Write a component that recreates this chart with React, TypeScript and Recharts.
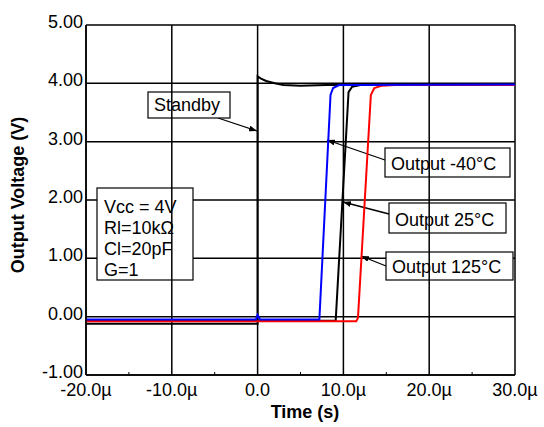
import React from "react";
import { LineChart, Line, XAxis, YAxis, CartesianGrid, ReferenceLine } from "recharts";

// time in µs, voltage in V
const xMajor = [-20, -10, 0, 10, 20, 30];
const xMinor = [-15, -5, 5, 15, 25];
const yTicks = [-1, 0, 1, 2, 3, 4, 5];

const standby = [
  { t: -20, v: -0.12 }, { t: 0, v: -0.12 }, { t: 0, v: 4.12 }, { t: 0.4, v: 4.08 },
  { t: 1, v: 4.04 }, { t: 2, v: 4.0 }, { t: 3, v: 3.97 }, { t: 5, v: 3.96 },
  { t: 8, v: 3.97 }, { t: 30, v: 3.98 },
];
const out25 = [
  { t: -20, v: -0.07 }, { t: 9.1, v: -0.07 }, { t: 10.6, v: 3.85 }, { t: 11, v: 3.94 },
  { t: 12, v: 3.97 }, { t: 30, v: 3.98 },
];
const out125 = [
  { t: -20, v: -0.08 }, { t: 11.5, v: -0.08 }, { t: 11.7, v: -0.02 }, { t: 13.2, v: 3.8 },
  { t: 13.6, v: 3.92 }, { t: 14.5, v: 3.96 }, { t: 16, v: 3.97 }, { t: 30, v: 3.97 },
];
const outM40 = [
  { t: -20, v: -0.05 }, { t: -0.2, v: -0.05 }, { t: 0, v: 0.03 }, { t: 0.3, v: -0.05 },
  { t: 7.2, v: -0.05 }, { t: 8.5, v: 3.8 }, { t: 8.8, v: 3.92 }, { t: 9.5, v: 3.97 },
  { t: 30, v: 3.98 },
];

const conditions = ["Vcc = 4V", "Rl=10kΩ", "Cl=20pF", "G=1"];

const FONT = "'Liberation Sans', Arial, sans-serif";

const fmtX = (v: number) => (v === 0 ? "0.0" : `${v.toFixed(1)}µ`);

const XTick = (props: any) => {
  const { x, y, payload } = props;
  if (xMinor.includes(payload.value)) {
    return <line x1={x} x2={x} y1={y} y2={y - 3} stroke="#000" strokeWidth={1} />;
  }
  return (
    <text x={x} y={y + 21} textAnchor="middle" fontSize={18} fontFamily={FONT} fill="#000">
      {fmtX(payload.value)}
    </text>
  );
};

const YTick = (props: any) => {
  const { x, y, payload } = props;
  return (
    <text x={x} y={y + 3} textAnchor="end" fontSize={18} fontFamily={FONT} fill="#000">
      {payload.value.toFixed(2)}
    </text>
  );
};

const Callout = ({ x, y, w, h, text, from, to }: any) => (
  <g>
    <line x1={from[0]} y1={from[1]} x2={to[0]} y2={to[1]} stroke="#000" strokeWidth={1.3} markerEnd="url(#arrowHead)" />
    <rect x={x} y={y} width={w} height={h} fill="#fff" stroke="#000" strokeWidth={1.2} />
    <text x={x + 6} y={y + h - 7} fontSize={18} fontFamily={FONT} fill="#000">{text}</text>
  </g>
);

export default function App() {
  return (
    <div style={{ position: "absolute", left: 0, top: 0, background: "#fff" }}>
      <LineChart width={544} height={427} margin={{ top: 25, right: 29, bottom: 0, left: 0 }}>
        <defs>
          <marker id="arrowHead" markerWidth="8" markerHeight="6" refX="8" refY="3" orient="auto" markerUnits="userSpaceOnUse">
            <path d="M0,0 L8,3 L0,6 z" fill="#000" />
          </marker>
        </defs>
        <CartesianGrid vertical={false} stroke="#000" strokeWidth={1.5} />
        {xMajor.map((t) => (
          <ReferenceLine key={t} x={t} stroke="#000" strokeWidth={1.5} />
        ))}
        <XAxis
          type="number"
          dataKey="t"
          domain={[-20, 30]}
          ticks={[...xMajor, ...xMinor].sort((a, b) => a - b)}
          allowDataOverflow
          tickLine={false}
          tickSize={0}
          tickMargin={0}
          axisLine={{ stroke: "#000", strokeWidth: 1.5 }}
          tick={<XTick />}
          height={52}
          interval={0}
        />
        <YAxis
          type="number"
          domain={[-1, 5]}
          ticks={yTicks}
          tickLine={false}
          tickSize={0}
          tickMargin={3}
          axisLine={{ stroke: "#000", strokeWidth: 1.5 }}
          tick={<YTick />}
          width={86}
          interval={0}
        />
        <Line data={standby} dataKey="v" stroke="#000" strokeWidth={2} dot={false} isAnimationActive={false} type="linear" />
        <Line data={out25} dataKey="v" stroke="#000" strokeWidth={2} dot={false} isAnimationActive={false} type="linear" />
        <Line data={out125} dataKey="v" stroke="#ff0000" strokeWidth={2} dot={false} isAnimationActive={false} type="linear" />
        <Line data={outM40} dataKey="v" stroke="#0000ff" strokeWidth={2} dot={false} isAnimationActive={false} type="linear" />

        <g>
          <rect x={97} y={188} width={96} height={92} fill="#fff" stroke="#000" strokeWidth={1.2} />
          {conditions.map((c, i) => (
            <text key={c} x={104} y={213 + i * 21} fontSize={18} fontFamily={FONT} fill="#000">{c}</text>
          ))}
          <Callout x={148} y={92} w={82} h={26} text="Standby" from={[218, 118]} to={[257, 131]} />
          <Callout x={385} y={148} w={125} h={29} text="Output -40°C" from={[385, 160]} to={[327, 140]} />
          <Callout x={389} y={203} w={117} h={30} text="Output 25°C" from={[389, 214]} to={[343, 202]} />
          <Callout x={386} y={252} w={127} h={28} text="Output 125°C" from={[386, 266]} to={[361, 256]} />
          <text x={305} y={418} textAnchor="middle" fontSize={18} fontWeight="bold" fontFamily={FONT} fill="#000">Time (s)</text>
          <text x={24} y={195} transform="rotate(-90 24 195)" textAnchor="middle" fontSize={18} fontWeight="bold" fontFamily={FONT} fill="#000">Output Voltage (V)</text>
        </g>
      </LineChart>
    </div>
  );
}
